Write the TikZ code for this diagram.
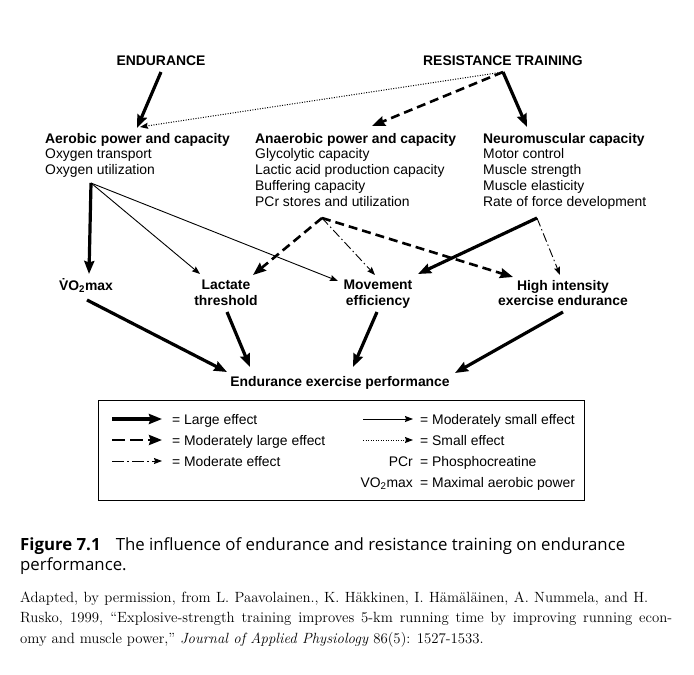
\documentclass[tikz,border=0pt]{standalone}
\usepackage{fontspec}
\newfontfamily\diagfont{Liberation Sans}
\newfontfamily\capfont{Open Sans}
\usetikzlibrary{arrows.meta}
\begin{document}
\begin{tikzpicture}[x=1pt,y=-1pt,
  lbl/.style={inner sep=0pt, font=\diagfont\fontsize{13.9}{15.7}\selectfont},
  hd/.style={inner sep=0pt, font=\diagfont\fontsize{13.9}{15.7}\selectfont\bfseries},
  large/.style={line width=3.2pt, -{Stealth[length=13pt,width=10pt,inset=1.5pt]}},
  modlarge/.style={line width=2.6pt, dash pattern=on 9pt off 5pt, -{Stealth[length=13pt,width=10pt,inset=1.5pt]}},
  moderate/.style={line width=0.9pt, dash pattern=on 9pt off 3pt on 1.5pt off 3pt, -{Stealth[length=8pt,width=6pt,inset=1pt]}},
  modsmall/.style={line width=0.9pt, -{Stealth[length=8pt,width=6pt,inset=1pt]}},
  small/.style={line width=1pt, dash pattern=on 1pt off 1.5pt, -{Stealth[length=8pt,width=6pt,inset=1pt]}},
  captxt/.style={inner sep=0pt, anchor=base west, font=\capfont\fontsize{16.8}{20}\selectfont},
  refl/.style={inner sep=0pt, anchor=base west, font=\rmfamily\fontsize{14.8}{21}\selectfont},
]
\useasboundingbox (0,0) rectangle (694,675);

% top nodes
\node[hd] (endur) at (161,61) {ENDURANCE};
\node[hd] (resist) at (503,61) {RESISTANCE TRAINING};

\node[lbl, anchor=north west, align=left] (aero) at (45,133)
  {\textbf{Aerobic power and capacity}\\Oxygen transport\\Oxygen utilization};
\node[lbl, anchor=north west, align=left] (anaero) at (255,133)
  {\textbf{Anaerobic power and capacity}\\Glycolytic capacity\\Lactic acid production capacity\\Buffering capacity\\PCr stores and utilization};
\node[lbl, anchor=north west, align=left] (neuro) at (483,133)
  {\textbf{Neuromuscular capacity}\\Motor control\\Muscle strength\\Muscle elasticity\\Rate of force development};

\node[hd, anchor=base] (vo2) at (86,290) {\.{V}O\textsubscript{2}max};
\node[hd, anchor=north, align=center] (lact) at (226,280) {Lactate\\threshold};
\node[hd, anchor=north, align=center] (move) at (378,280) {Movement\\efficiency};
\node[hd, anchor=north, align=center] (high) at (563,280) {High intensity\\exercise endurance};
\node[hd, anchor=base] (perf) at (340,386) {Endurance exercise performance};

% connector points
\coordinate (eOut) at (161,72);
\coordinate (aeroIn) at (137,128);
\coordinate (rApex) at (503,72);
\coordinate (aeroIn2) at (140,127);
\coordinate (anaeroIn) at (372,126);
\coordinate (neuroIn) at (527,127);
\coordinate (aeroApex) at (91,183);
\coordinate (vo2In) at (89,274);
\coordinate (lactInA) at (200,274);
\coordinate (moveInA) at (338,281);
\coordinate (anApex) at (322,218);
\coordinate (lactInB) at (253,275);
\coordinate (moveInB) at (375,275);
\coordinate (highInA) at (513,277);
\coordinate (neApex) at (537,218);
\coordinate (moveInC) at (418,274);
\coordinate (highInB) at (560,275);
\coordinate (vo2Out) at (87,300);
\coordinate (perfInA) at (227,372);
\coordinate (lactOut) at (227,312);
\coordinate (perfInB) at (250,367);
\coordinate (moveOut) at (377,312);
\coordinate (perfInC) at (353,367);
\coordinate (highOut) at (563,312);
\coordinate (perfInD) at (455,373);

\draw[large] (eOut) -- (aeroIn);
\draw[small] (rApex) -- (aeroIn2);
\draw[modlarge] (rApex) -- (anaeroIn);
\draw[large] (rApex) -- (neuroIn);

\draw[large] (aeroApex) -- (vo2In);
\draw[modsmall] (aeroApex) -- (lactInA);
\draw[modsmall] (aeroApex) -- (moveInA);

\draw[modlarge] (anApex) -- (lactInB);
\draw[moderate] (anApex) -- (moveInB);
\draw[modlarge] (anApex) -- (highInA);

\draw[large] (neApex) -- (moveInC);
\draw[moderate] (neApex) -- (highInB);

\draw[large] (vo2Out) -- (perfInA);
\draw[large] (lactOut) -- (perfInB);
\draw[large] (moveOut) -- (perfInC);
\draw[large] (highOut) -- (perfInD);

% legend
\node[draw, line width=1.1pt, minimum width=486pt, minimum height=100pt, inner sep=0pt, anchor=north west] (legend) at (98,400) {};
\coordinate (l1a) at (112,419); \coordinate (l1b) at (162,419);
\coordinate (l2a) at (112,440); \coordinate (l2b) at (162,440);
\coordinate (l3a) at (112,461); \coordinate (l3b) at (162,461);
\coordinate (r1a) at (363,419); \coordinate (r1b) at (413,419);
\coordinate (r2a) at (363,440); \coordinate (r2b) at (413,440);
\draw[large] (l1a) -- (l1b);
\draw[modlarge, dash pattern=on 13pt off 5pt] (l2a) -- (l2b);
\draw[moderate, dash pattern=on 12pt off 3pt on 2pt off 3pt] (l3a) -- (l3b);
\draw[modsmall] (r1a) -- (r1b);
\draw[small] (r2a) -- (r2b);
\node[lbl, anchor=base west] (t1) at (172,424) {= Large effect};
\node[lbl, anchor=base west] (t2) at (172,445) {= Moderately large effect};
\node[lbl, anchor=base west] (t3) at (172,466) {= Moderate effect};
\node[lbl, anchor=base west] (t4) at (420,424) {= Moderately small effect};
\node[lbl, anchor=base west] (t5) at (420,445) {= Small effect};
\node[lbl, anchor=base east] (t6k) at (413,466) {PCr};
\node[lbl, anchor=base west] (t6) at (420,466) {= Phosphocreatine};
\node[lbl, anchor=base east] (t7k) at (413,487) {VO\textsubscript{2}max};
\node[lbl, anchor=base west] (t7) at (420,487) {= Maximal aerobic power};

% caption
\node[captxt] (cap1) at (20,550) {\textbf{Figure 7.1}\hspace{0.9em}The influence of endurance and resistance training on endurance};
\node[captxt] (cap2) at (20,570) {performance.};
\node[refl] (ref1) at (20,602) {\makebox[628pt][s]{Adapted, by permission, from L. Paavolainen., K. Häkkinen, I. Hämäläinen, A. Nummela, and H.}};
\node[refl] (ref2) at (20,622) {\makebox[652pt][s]{Rusko, 1999, “Explosive-strength training improves 5-km running time by improving running econ-}};
\node[refl] (ref3) at (20,643) {omy and muscle power,” \textit{Journal of Applied Physiology} 86(5): 1527-1533.};
\end{tikzpicture}
\end{document}
